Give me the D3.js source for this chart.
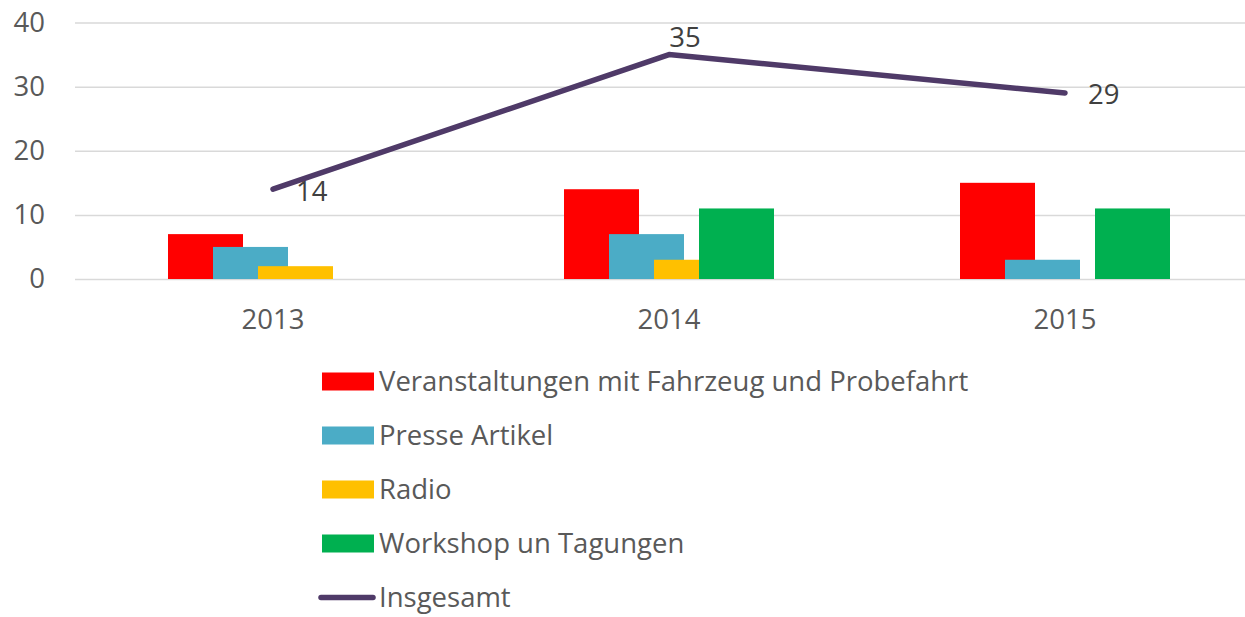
<!DOCTYPE html>
<html lang="de">
<head>
    <meta charset="UTF-8">
    <title>Veranstaltungen 2013-2015</title>
    <script src="https://d3js.org/d3.v7.min.js"></script>
    <style>
        body { margin: 0; background: #fff; }
        text { font-family: "Open Sans", "Noto Sans", sans-serif; }
    </style>
</head>
<body>
    <svg id="chart" width="1245" height="617"></svg>

    <script>
        // Data
        var years = ["2013", "2014", "2015"];
        var seriesNames = ["Veranstaltungen mit Fahrzeug und Probefahrt", "Presse Artikel", "Radio", "Workshop un Tagungen"];
        var veranstaltungen = [7, 14, 15];
        var presse = [5, 7, 3];
        var radio = [2, 3, 0];
        var workshop = [0, 11, 11];
        var insgesamt = [14, 35, 29];
        var lineName = "Insgesamt";
        var yTicks = [0, 10, 20, 30, 40];

        var barValues = [veranstaltungen, presse, radio, workshop];
        var colors = ["#FF0000", "#4BACC6", "#FFC000", "#00B050"];
        var lineColor = "#4F3A68";
        var fontSize = "27.5px";

        var svg = d3.select("#chart");

        // Scales
        var x = d3.scaleBand()
                  .domain(years)
                  .range([75, 1263])
                  .padding(0);

        var y = d3.scaleLinear()
                  .domain([0, 40])
                  .range([279, 22.5]);

        // series offset inside a category (bars overlap, 75 wide, step 45)
        var barW = 75;
        var sub = d3.scaleLinear()
                    .domain([0, seriesNames.length - 1])
                    .range([93, 93 + 45 * (seriesNames.length - 1)]);

        // Gridlines + y axis labels
        var yAxis = svg.append("g")
                       .attr("transform", "translate(75,0)")
                       .call(d3.axisLeft(y).tickValues(yTicks).tickSize(-1188).tickPadding(30));
        yAxis.select(".domain").remove();
        yAxis.selectAll(".tick line")
             .attr("stroke", "#D9D9D9")
             .attr("stroke-width", 1.5);
        yAxis.selectAll(".tick text")
             .attr("fill", "#595959")
             .style("font-size", fontSize);

        // x axis labels
        var xAxis = svg.append("g")
                       .attr("transform", "translate(0,279)")
                       .call(d3.axisBottom(x).tickSize(0).tickPadding(30));
        xAxis.select(".domain").remove();
        xAxis.selectAll(".tick text")
             .attr("fill", "#595959")
             .style("font-size", fontSize);

        // Bars
        barValues.forEach(function(vals, i) {
            svg.append("g")
               .selectAll("rect")
               .data(vals)
               .enter().append("rect")
               .attr("x", function(d, j) { return x(years[j]) + sub(i); })
               .attr("y", function(d) { return y(d); })
               .attr("width", barW)
               .attr("height", function(d) { return y(0) - y(d); })
               .attr("fill", colors[i]);
        });

        // Line
        var line = d3.line()
                     .x(function(d, j) { return x(years[j]) + x.bandwidth() / 2; })
                     .y(function(d) { return y(d); });

        svg.append("path")
           .datum(insgesamt)
           .attr("d", line)
           .attr("fill", "none")
           .attr("stroke", lineColor)
           .attr("stroke-width", 5.5)
           .attr("stroke-linecap", "round")
           .attr("stroke-linejoin", "round");

        // Data labels (right of point, the middle one above)
        var labelOffset = [[23, 2, "start"], [16, -17, "middle"], [23, 1, "start"]];
        svg.append("g")
           .selectAll("text")
           .data(insgesamt)
           .enter().append("text")
           .attr("x", function(d, j) { return x(years[j]) + x.bandwidth() / 2 + labelOffset[j][0]; })
           .attr("y", function(d, j) { return y(d) + labelOffset[j][1]; })
           .attr("dy", "0.35em")
           .attr("text-anchor", function(d, j) { return labelOffset[j][2]; })
           .attr("fill", "#404040")
           .style("font-size", fontSize)
           .text(function(d) { return d; });

        // Legend
        var legendItems = seriesNames.concat([lineName]);
        var legend = svg.selectAll(".legend")
                        .data(legendItems)
                        .enter().append("g")
                        .attr("class", "legend")
                        .attr("transform", function(d, i) { return "translate(322," + (381.5 + i * 54) + ")"; });

        legend.filter(function(d, i) { return i < seriesNames.length; })
              .append("rect")
              .attr("x", 0)
              .attr("y", -9)
              .attr("width", 52)
              .attr("height", 18)
              .attr("fill", function(d, i) { return colors[i]; });

        legend.filter(function(d) { return d === lineName; })
              .append("line")
              .attr("x1", -1)
              .attr("x2", 51)
              .attr("stroke", lineColor)
              .attr("stroke-width", 5.5)
              .attr("stroke-linecap", "round");

        legend.append("text")
              .attr("x", 57)
              .attr("dy", "0.33em")
              .attr("fill", "#595959")
              .style("font-size", fontSize)
              .text(function(d) { return d; });
    </script>
</body>
</html>
